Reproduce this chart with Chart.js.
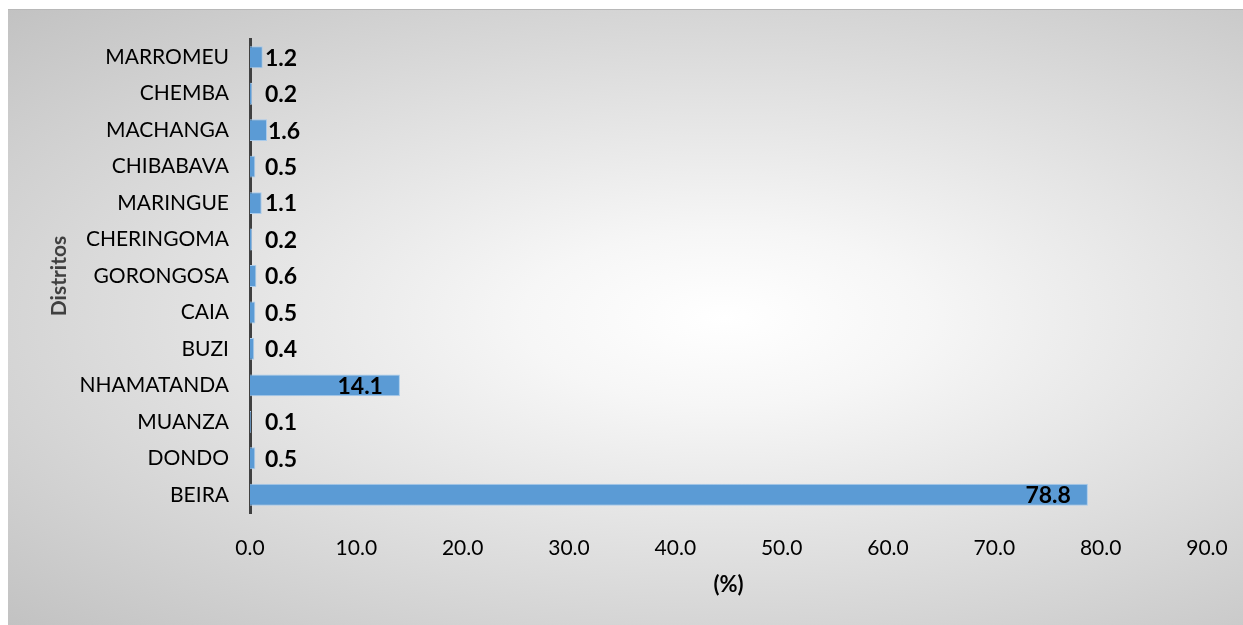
<!DOCTYPE html>
<html>
<head>
<meta charset="utf-8">
<script src="https://cdn.jsdelivr.net/npm/chart.js@4/dist/chart.umd.min.js"></script>
<style>
  html, body { margin: 0; padding: 0; background: #ffffff; }
  #wrap { position: relative; width: 1243px; height: 625px; overflow: hidden; }
  #bg {
    position: absolute; left: 8px; top: 9px; width: 1235px; height: 616px;
    border-top: 1px solid #b8b8b8;
    background: radial-gradient(ellipse farthest-corner at 58% 50%, #ffffff 0%, #f6f6f6 20%, #c2c2c2 100%);
  }
  canvas { position: absolute; left: 0; top: 0; }
</style>
</head>
<body>
<div id="wrap">
  <div id="bg"></div>
  <canvas id="c" width="1243" height="625"></canvas>
</div>
<script>
const categories = ['MARROMEU', 'CHEMBA', 'MACHANGA', 'CHIBABAVA', 'MARINGUE', 'CHERINGOMA', 'GORONGOSA', 'CAIA', 'BUZI', 'NHAMATANDA', 'MUANZA', 'DONDO', 'BEIRA'];
const values = [1.2, 0.2, 1.6, 0.5, 1.1, 0.2, 0.6, 0.5, 0.4, 14.1, 0.1, 0.5, 78.8];
const xTicks = [0, 10, 20, 30, 40, 50, 60, 70, 80, 90];
const xTitle = '(%)';
const yTitle = 'Distritos';

const FONT = 'Lato, "Open Sans", sans-serif';

const valueLabels = {
  id: 'valueLabels',
  afterDatasetsDraw(chart) {
    const ctx = chart.ctx;
    const meta = chart.getDatasetMeta(0);
    const xs = chart.scales.x;
    const x0 = xs.getPixelForValue(0);
    ctx.save();
    ctx.font = 'bold 23px ' + FONT;
    ctx.fillStyle = '#000000';
    ctx.textBaseline = 'middle';
    meta.data.forEach((bar, i) => {
      const v = values[i];
      const txt = v.toFixed(1);
      if (v > 5) {
        ctx.textAlign = 'right';
        ctx.fillText(txt, bar.x - 17, bar.y + 1);
      } else {
        ctx.textAlign = 'left';
        ctx.fillText(txt, Math.max(bar.x + 1, x0 + 15), bar.y + 1);
      }
    });
    ctx.restore();
  }
};

new Chart(document.getElementById('c'), {
  type: 'bar',
  data: {
    labels: categories,
    datasets: [{
      data: values,
      backgroundColor: '#5b9bd5',
      borderColor: '#a9cbeb',
      borderWidth: 1,
      barPercentage: 1.0,
      categoryPercentage: 0.6
    }]
  },
  options: {
    indexAxis: 'y',
    responsive: false,
    animation: false,
    devicePixelRatio: 1,
    layout: { padding: { left: 8, top: 39, right: 36, bottom: 0 } },
    plugins: { legend: { display: false }, tooltip: { enabled: false } },
    scales: {
      x: {
        min: 0, max: 90,
        afterBuildTicks(scale) { scale.ticks = xTicks.map(v => ({ value: v })); },
        afterFit(scale) { scale.height = 625 - 513; scale.paddingRight = 0; scale.paddingLeft = 0; },
        grid: { display: false, drawTicks: false },
        border: { display: false },
        ticks: {
          color: '#000000',
          font: { family: FONT, size: 21 },
          padding: 23,
          maxRotation: 0,
          callback: (v) => Number(v).toFixed(1)
        },
        title: {
          display: true, text: xTitle, color: '#000000',
          font: { family: FONT, size: 22, weight: 'bold' },
          padding: { top: 4, bottom: 27 }
        }
      },
      y: {
        afterFit(scale) { scale.width = 250 - 8; },
        grid: { display: false, drawTicks: false },
        border: { display: true, color: '#404040', width: 3 },
        ticks: {
          color: '#000000',
          font: { family: FONT, size: 21 },
          padding: 21
        },
        title: {
          display: true, text: yTitle, color: '#404040',
          font: { family: FONT, size: 21, weight: 'bold' },
          padding: { top: 39, bottom: 0 }
        }
      }
    }
  },
  plugins: [valueLabels]
});
</script>
</body>
</html>
